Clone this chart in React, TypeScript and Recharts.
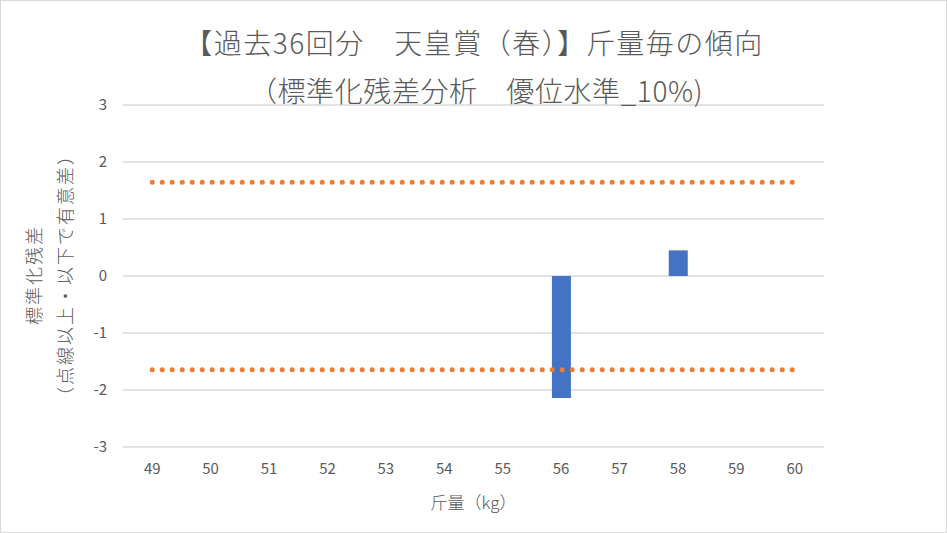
import React from "react";
import {
  ComposedChart,
  Bar,
  Line,
  XAxis,
  YAxis,
  CartesianGrid,
  Customized,
} from "recharts";

// 斤量 categories and standardized residuals
const weights = ["49", "50", "51", "52", "53", "54", "55", "56", "57", "58", "59", "60"];
const residuals: (number | null)[] = [null, null, null, null, null, null, null, -2.14, null, 0.45, null, null];
const upperLimit = [1.645, 1.645, 1.645, 1.645, 1.645, 1.645, 1.645, 1.645, 1.645, 1.645, 1.645, 1.645];
const lowerLimit = [-1.645, -1.645, -1.645, -1.645, -1.645, -1.645, -1.645, -1.645, -1.645, -1.645, -1.645, -1.645];
const yTicks = [-3, -2, -1, 0, 1, 2, 3];

const titleLine1 = "【過去36回分　天皇賞（春）】斤量毎の傾向";
const titleLine2 = "（標準化残差分析　優位水準_10%)";

const data = weights.map((w, i) => ({
  weight: w,
  residual: residuals[i],
  upper: upperLimit[i],
  lower: lowerLimit[i],
}));

const FONT = '"Noto Sans CJK JP", "Noto Sans", sans-serif';
const GREY = "#595959";

const Title = () => (
  <g fontFamily={FONT} fill={GREY} fontWeight={300}>
    <text x={474} y={42} textAnchor="middle" dominantBaseline="central" fontSize={28} letterSpacing={1.5}>
      {titleLine1}
    </text>
    <text x={476} y={90} textAnchor="middle" dominantBaseline="central" fontSize={28} letterSpacing={0.6}>
      {titleLine2}
    </text>
  </g>
);

const YLabel = () => (
  <g fontFamily={FONT} fill={GREY} fontWeight={300} fontSize={18}>
    <text
      x={33}
      y={275}
      transform="rotate(-90, 33, 275)"
      textAnchor="middle"
      dominantBaseline="central"
      letterSpacing={2}
    >
      標準化残差
    </text>
    <text
      x={64}
      y={275}
      transform="rotate(-90, 64, 275)"
      textAnchor="middle"
      dominantBaseline="central"
      letterSpacing={2}
    >
      （点線以上・以下で有意差）
    </text>
  </g>
);

export default function App() {
  return (
    <div
      style={{
        position: "relative",
        width: 947,
        height: 533,
        background: "#fff",
        outline: "1px solid #d9d9d9",
        outlineOffset: -1,
      }}
    >
      <style>{`body{margin:0}`}</style>
      <ComposedChart
        width={947}
        height={533}
        data={data}
        margin={{ top: 105, right: 123, bottom: 56, left: 0 }}
        barSize={19}
      >
        <CartesianGrid vertical={false} stroke="#d9d9d9" strokeWidth={1.5} />
        <XAxis
          dataKey="weight"
          height={30}
          axisLine={false}
          tickLine={false}
          tickSize={0}
          tickMargin={16}
          tick={{ fill: GREY, fontSize: 15, fontFamily: FONT }}
          interval={0}
          label={{
            value: "斤量（kg）",
            position: "insideBottom",
            offset: -32,
            fill: GREY,
            fontSize: 17,
            fontFamily: FONT,
            fontWeight: 300,
          }}
        />
        <YAxis
          width={123}
          domain={[-3, 3]}
          ticks={yTicks}
          axisLine={false}
          tickLine={false}
          tickSize={0}
          tickMargin={16}
          tick={{ fill: GREY, fontSize: 15, fontFamily: FONT }}
        />
        <Bar dataKey="residual" fill="#4472C4" isAnimationActive={false} />
        <Line
          dataKey="upper"
          stroke="#ED7D31"
          strokeWidth={5}
          strokeDasharray="0 10"
          strokeLinecap="round"
          dot={false}
          activeDot={false}
          isAnimationActive={false}
        />
        <Line
          dataKey="lower"
          stroke="#ED7D31"
          strokeWidth={5}
          strokeDasharray="0 10"
          strokeLinecap="round"
          dot={false}
          activeDot={false}
          isAnimationActive={false}
        />
        <Customized component={<Title />} />
        <Customized component={<YLabel />} />
      </ComposedChart>
    </div>
  );
}
